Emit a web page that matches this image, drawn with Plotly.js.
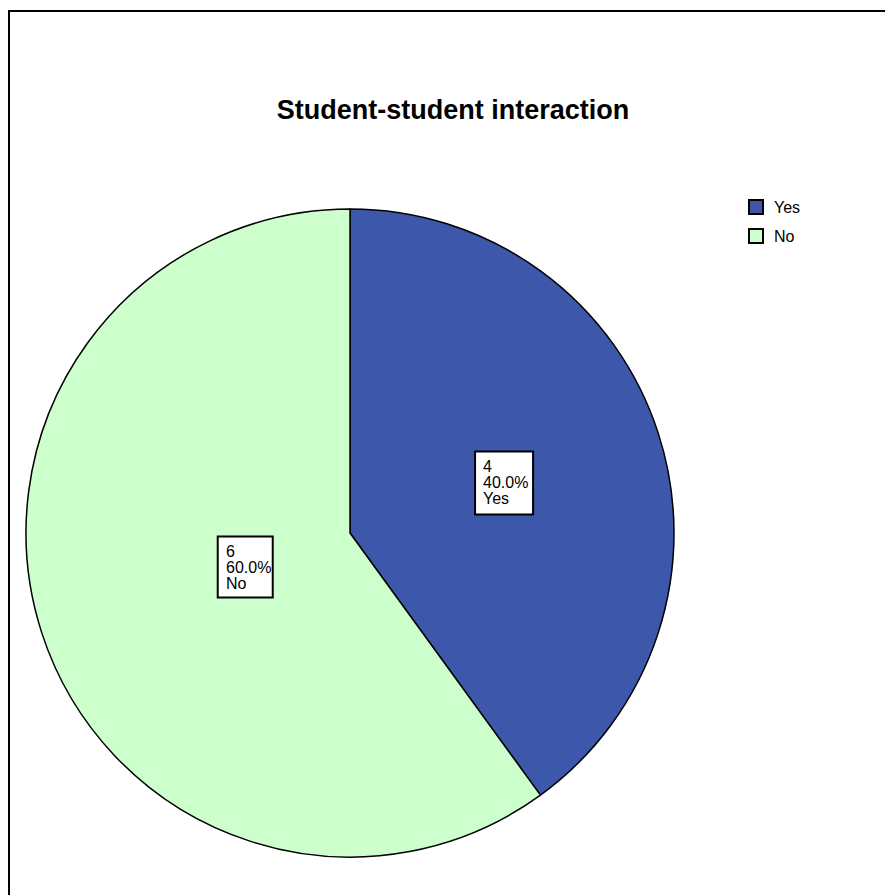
<!DOCTYPE html>
<html>
<head>
<meta charset="utf-8">
<script src="https://cdn.plot.ly/plotly-3.0.1.min.js"></script>
<style>html,body{margin:0;padding:0;background:#fff;}#chart{width:885px;height:895px;}</style>
</head>
<body>
<div id="chart"></div>
<script>
// Data
const categories = ["Yes", "No"];
const counts = [4, 6];
const colors = ["#3d58ab", "#ccffcc"];
const chartTitle = "Student-student interaction";

const W = 885, H = 895;
const FONT = "Arial, 'Liberation Sans', sans-serif";
// pie geometry (pixels)
const cxPx = 350, cyPx = 533, rPx = 324;
const domainX = [(cxPx - rPx) / W, (cxPx + rPx) / W];
const domainY = [(H - (cyPx + rPx)) / H, (H - (cyPx - rPx)) / H];

const total = counts.reduce((a, b) => a + b, 0);
const labelRadiusFrac = [0.5, 0.34];
const boxW = [58, 55], boxH = [63, 61];

const px2x = p => p / W;
const px2y = p => (H - p) / H;

const shapes = [
  {type: "rect", xref: "paper", yref: "paper", x0: px2x(9), x1: 1.01, y0: -0.01, y1: px2y(11),
   line: {color: "#000", width: 2}, fillcolor: "rgba(0,0,0,0)"}
];
const annotations = [];

let cum = 0;
counts.forEach((v, i) => {
  const frac = v / total;
  const mid = (cum + frac / 2) * 2 * Math.PI; // clockwise from 12 o'clock
  cum += frac;
  const rr = rPx * labelRadiusFrac[i];
  const cx = cxPx + Math.sin(mid) * rr;
  const cy = cyPx - Math.cos(mid) * rr;
  const left = cx - boxW[i] / 2, top = cy - boxH[i] / 2;
  shapes.push({type: "rect", xref: "paper", yref: "paper", layer: "above",
    x0: px2x(left), x1: px2x(left + boxW[i]), y0: px2y(top + boxH[i]), y1: px2y(top),
    line: {color: "#000", width: 2}, fillcolor: "#ffffff"});
  const lines = [String(v), (frac * 100).toFixed(1) + "%", categories[i]];
  lines.forEach((t, k) => {
    annotations.push({
      xref: "paper", yref: "paper",
      x: px2x(left + 6), y: px2y(cy + (k - 1) * 16),
      xanchor: "left", yanchor: "middle",
      text: t, showarrow: false, align: "left",
      font: {family: FONT, size: 16, color: "#000"}
    });
  });
});

// legend
categories.forEach((c, i) => {
  const top = 200 + 29 * i;
  shapes.push({type: "rect", xref: "paper", yref: "paper",
    x0: px2x(749), x1: px2x(763), y0: px2y(top + 14), y1: px2y(top),
    line: {color: "#000", width: 2}, fillcolor: colors[i]});
  annotations.push({xref: "paper", yref: "paper", x: px2x(772), y: px2y(top + 7),
    xanchor: "left", yanchor: "middle", text: c, showarrow: false,
    font: {family: FONT, size: 16, color: "#000"}});
});

const trace = {
  type: "pie",
  labels: categories,
  values: counts,
  sort: false,
  direction: "clockwise",
  rotation: 0,
  marker: {colors: colors, line: {color: "#000", width: 1.5}},
  textinfo: "none",
  hoverinfo: "label+value+percent",
  domain: {x: domainX, y: domainY},
  showlegend: false
};

const layout = {
  width: W, height: H,
  margin: {l: 0, r: 0, t: 0, b: 0},
  paper_bgcolor: "#ffffff",
  title: {
    text: "<b>" + chartTitle + "</b>",
    x: px2x(453), xanchor: "center",
    y: px2y(110), yanchor: "middle",
    font: {family: FONT, size: 27, color: "#000"}
  },
  showlegend: false,
  shapes: shapes,
  annotations: annotations
};

Plotly.newPlot("chart", [trace], layout, {displayModeBar: false, staticPlot: true});
</script>
</body>
</html>
